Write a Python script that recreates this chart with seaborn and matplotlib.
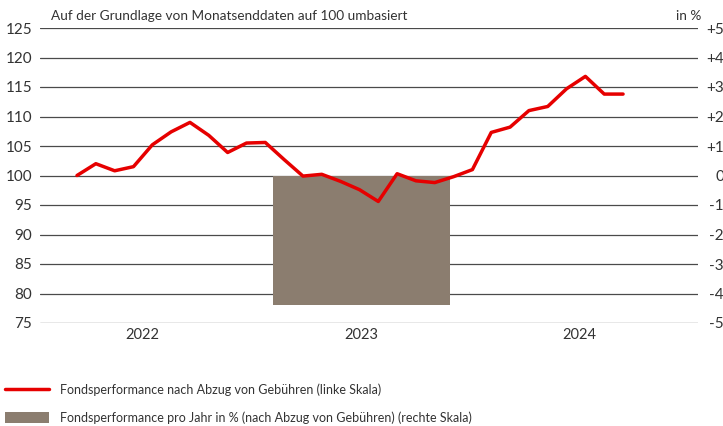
import matplotlib
matplotlib.use("Agg")
import matplotlib.pyplot as plt
import seaborn as sns
import numpy as np
import pandas as pd

# ---- data ----
index_values = [100.0, 102.0, 100.8, 101.5, 105.2, 107.4, 109.0, 106.8, 103.9, 105.5,
                105.6, 102.7, 99.9, 100.2, 99.0, 97.6, 95.6, 100.3, 99.1, 98.8,
                99.8, 101.0, 107.3, 108.2, 111.0, 111.7, 114.7, 116.8, 113.8, 113.8]
years = ["2022", "2023", "2024"]
bar_years = ["2023"]
bar_values = [-4.4]
left_ticks = [75, 80, 85, 90, 95, 100, 105, 110, 115, 120, 125]
right_ticks = [-5, -4, -3, -2, -1, 0, 1, 2, 3, 4, 5]
right_labels = ["-5", "-4", "-3", "-2", "-1", "0", "+1", "+2", "+3", "+4", "+5"]
title_text = "Auf der Grundlage von Monatsenddaten auf 100 umbasiert"
unit_text = "in %"
legend_labels = ["Fondsperformance nach Abzug von Gebühren (linke Skala)",
                 "Fondsperformance pro Jahr in % (nach Abzug von Gebühren) (rechte Skala)"]

RED = "#e60000"
TAUPE = "#8b7d6f"
GRID = "#4a4a4a"
TEXT = "#333333"

sns.set_theme(style="white")
plt.rcParams["font.family"] = ["Lato", "DejaVu Sans"]
plt.rcParams["text.color"] = TEXT

W, H = 723, 426
fig = plt.figure(figsize=(W / 100, H / 100), dpi=100)
x0, x1, ytop, ybot = 40, 698, 28, 323
ax = fig.add_axes([x0 / W, (H - ybot) / H, (x1 - x0) / W, (ybot - ytop) / H])

# month index on x; year centres placed on the same scale
months = np.arange(len(index_values))
year_pos = {"2022": 3.49, "2023": 15.12, "2024": 26.68}
year_width = 9.4

# bars (right scale) on the base axes
bar_df = pd.DataFrame({"x": [year_pos[y] for y in bar_years], "v": bar_values})
sns.barplot(data=bar_df, x="x", y="v", native_scale=True, orient="x",
            width=year_width, color=TAUPE, saturation=1, linewidth=0,
            errorbar=None, ax=ax)

# line (left scale) on a twin axes on top
axl = ax.twinx()
sns.lineplot(x=months, y=index_values, color=RED, linewidth=2.5, ax=axl)

TICK_FS = 11
ax.set_ylim(-5, 5)
ax.set_xlim(-1.965, 32.98)
ax.yaxis.tick_right()
ax.set_yticks(right_ticks)
ax.set_yticklabels(right_labels)
ax.tick_params(axis="y", which="both", left=False, right=False, labelleft=False,
               labelright=True, length=0, pad=18.7, labelsize=TICK_FS, labelcolor=TEXT)
for lab in ax.get_yticklabels():
    lab.set_horizontalalignment("right")
ax.set_xticks([year_pos[y] for y in years])
ax.set_xticklabels(years)
ax.tick_params(axis="x", length=0, pad=3.8, labelsize=10.5, labelcolor=TEXT)
ax.set_xlabel("")
ax.set_ylabel("")
ax.yaxis.grid(True, color=GRID, linewidth=0.9)
ax.xaxis.grid(False)
ax.set_axisbelow(True)
for s in ax.spines.values():
    s.set_visible(False)

axl.set_ylim(75, 125)
axl.yaxis.tick_left()
axl.set_yticks(left_ticks)
axl.set_yticklabels([str(t) for t in left_ticks])
axl.tick_params(axis="y", which="both", right=False, labelright=False, labelleft=True,
                length=0, pad=5.8, labelsize=TICK_FS, labelcolor=TEXT)
axl.set_ylabel("")
for s in axl.spines.values():
    s.set_visible(False)

fig.text(51 / W, 1 - 16 / H, title_text, fontsize=9.8, va="center", ha="left", color=TEXT)
fig.text(701 / W, 1 - 16 / H, unit_text, fontsize=9.8, va="center", ha="right", color=TEXT)

handles = [axl.lines[0], ax.patches[0]]
fs = 9.0
fpx = fs * 100 / 72
fig.legend(handles, legend_labels, loc="upper left",
           bbox_to_anchor=(5 / W, 1 - 383 / H), frameon=False, fontsize=fs,
           borderpad=0, borderaxespad=0, handlelength=44 / fpx,
           handleheight=12 / fpx,
           handletextpad=11 / fpx, labelspacing=1.25, labelcolor=TEXT)

fig.savefig("out.png", dpi=100)
